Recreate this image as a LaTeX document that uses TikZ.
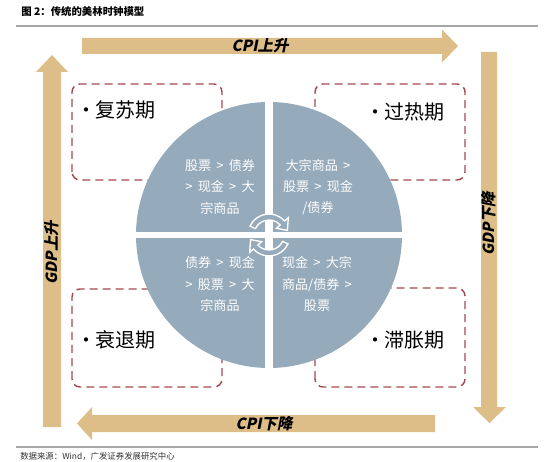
\documentclass[tikz,border=0pt]{standalone}
\usepackage{fontspec}
\usepackage{xcolor}
\newfontfamily\cjk{Noto Sans CJK SC}
\newfontfamily\cjkslant[FakeSlant=0.2]{Noto Sans CJK SC}
\usetikzlibrary{calc}
\definecolor{cputan}{HTML}{DDBD88}
\definecolor{clockblue}{HTML}{95AABB}
\definecolor{phasered}{HTML}{A34A4F}
\definecolor{rulegray}{HTML}{A6A6A6}
\newcommand{\gtsep}{\hspace{0.4em}>\hspace{0.4em}}

\begin{document}
\begin{tikzpicture}[
    x=0.75pt, y=0.75pt,
    bigarrow/.style={fill=cputan, draw=none},
    arrowlabel/.style={inner sep=0, font=\cjkslant\bfseries\fontsize{11.5}{13}\selectfont},
    phase/.style={draw=phasered, line width=1.1pt, dash pattern=on 6pt off 3.75pt, rounded corners=6pt},
    phaselabel/.style={anchor=west, inner sep=0, font=\cjk\fontsize{15}{18}\selectfont},
    dot/.style={inner sep=0, anchor=base east, font=\cjk\fontsize{15}{18}\selectfont},
    quadtext/.style={align=center, text=white, inner sep=0, font=\cjk\fontsize{9.8}{15.8}\selectfont},
    cycarrow/.style={fill=clockblue, draw=white, line width=1pt},
]
    \useasboundingbox (0,0) rectangle (550,461);

    % Title and rules
    \node[anchor=west, inner sep=0, font=\cjk\bfseries\fontsize{7.8}{9}\selectfont] (title) at (21,449) {图 2：传统的美林时钟模型};
    \draw[rulegray, line width=0.8pt] (16,435) -- (538,435);
    \draw[rulegray, line width=0.8pt] (16,14) -- (538,14);
    \node[anchor=west, inner sep=0, text=black!80, font=\cjk\fontsize{6.3}{8}\selectfont] (src) at (20,5) {数据来源：Wind，广发证券发展研究中心};

    % Big arrows
    \fill[bigarrow] (82,407) -- (442,407) -- (442,398.5) -- (458,415) -- (442,431.5) -- (442,423) -- (82,423) -- cycle;
    \fill[bigarrow] (435,29) -- (92,29) -- (92,21) -- (77,37.5) -- (92,54) -- (92,46) -- (435,46) -- cycle;
    \fill[bigarrow] (43,34) -- (43,389) -- (36,389) -- (52,406) -- (68,389) -- (61,389) -- (61,34) -- cycle;
    \fill[bigarrow] (481,409) -- (481,54) -- (473,54) -- (489.5,38) -- (506,54) -- (497,54) -- (497,409) -- cycle;

    \node[arrowlabel] (cpiup) at (260,415) {CPI上升};
    \node[arrowlabel] (cpidown) at (264,37.5) {CPI下降};
    \node[arrowlabel, rotate=90] (gdpup) at (52,208) {GDP上升};
    \node[arrowlabel, rotate=90] (gdpdown) at (489,237) {GDP下降};

    % Phase boxes
    \draw[phase] (72,281) rectangle (222,377);
    \draw[phase] (315,281) rectangle (465,377);
    \draw[phase] (72,74) rectangle (222,172);
    \draw[phase] (315,74) rectangle (465,173);

    \node[phaselabel] (recovery) at (95,351) {复苏期};
    \node[phaselabel] (overheat) at (384,349) {过热期};
    \node[phaselabel] (recession) at (95,121) {衰退期};
    \node[phaselabel] (stagflation) at (384,121) {滞胀期};
    \node[dot] (d1) at ([xshift=1pt]recovery.base west) {•};
    \node[dot] (d2) at ([xshift=1pt]overheat.base west) {•};
    \node[dot] (d3) at ([xshift=1pt]recession.base west) {•};
    \node[dot] (d4) at ([xshift=1pt]stagflation.base west) {•};

    % Clock
    \coordinate (ctr) at (269,226);
    \fill[clockblue] (ctr) circle[radius=133];
    \draw[white, line width=5.6pt] ($(ctr)+(0,-135)$) -- ($(ctr)+(0,135)$);
    \draw[white, line width=4.5pt] ($(ctr)+(-135,0)$) -- ($(ctr)+(135,0)$);

    \node[quadtext] (q1) at (220,274) {股票\gtsep 债券\\>\hspace{0.4em}现金\gtsep 大\\宗商品};
    \node[quadtext] (q2) at (318,274) {大宗商品\hspace{0.4em}>\\股票\gtsep 现金\\/债券};
    \node[quadtext] (q3) at (220,177) {债券\gtsep 现金\\>\hspace{0.4em}股票\gtsep 大\\宗商品};
    \node[quadtext] (q4) at (317,177) {现金\gtsep 大宗\\商品/债券\hspace{0.4em}>\\股票};

    % Turning arrows
    \filldraw[cycarrow] ([shift={(155:21)}]ctr) arc[start angle=155, end angle=42, radius=21]
        -- ([shift={(42:26)}]ctr) -- ([shift={(14:19)}]ctr) -- ([shift={(42:10)}]ctr)
        -- ([shift={(42:15)}]ctr) arc[start angle=42, end angle=155, radius=15] -- cycle;
    \filldraw[cycarrow] ([shift={(-25:21)}]ctr) arc[start angle=-25, end angle=-138, radius=21]
        -- ([shift={(-138:26)}]ctr) -- ([shift={(-166:19)}]ctr) -- ([shift={(-138:10)}]ctr)
        -- ([shift={(-138:15)}]ctr) arc[start angle=-138, end angle=-25, radius=15] -- cycle;
\end{tikzpicture}
\end{document}
